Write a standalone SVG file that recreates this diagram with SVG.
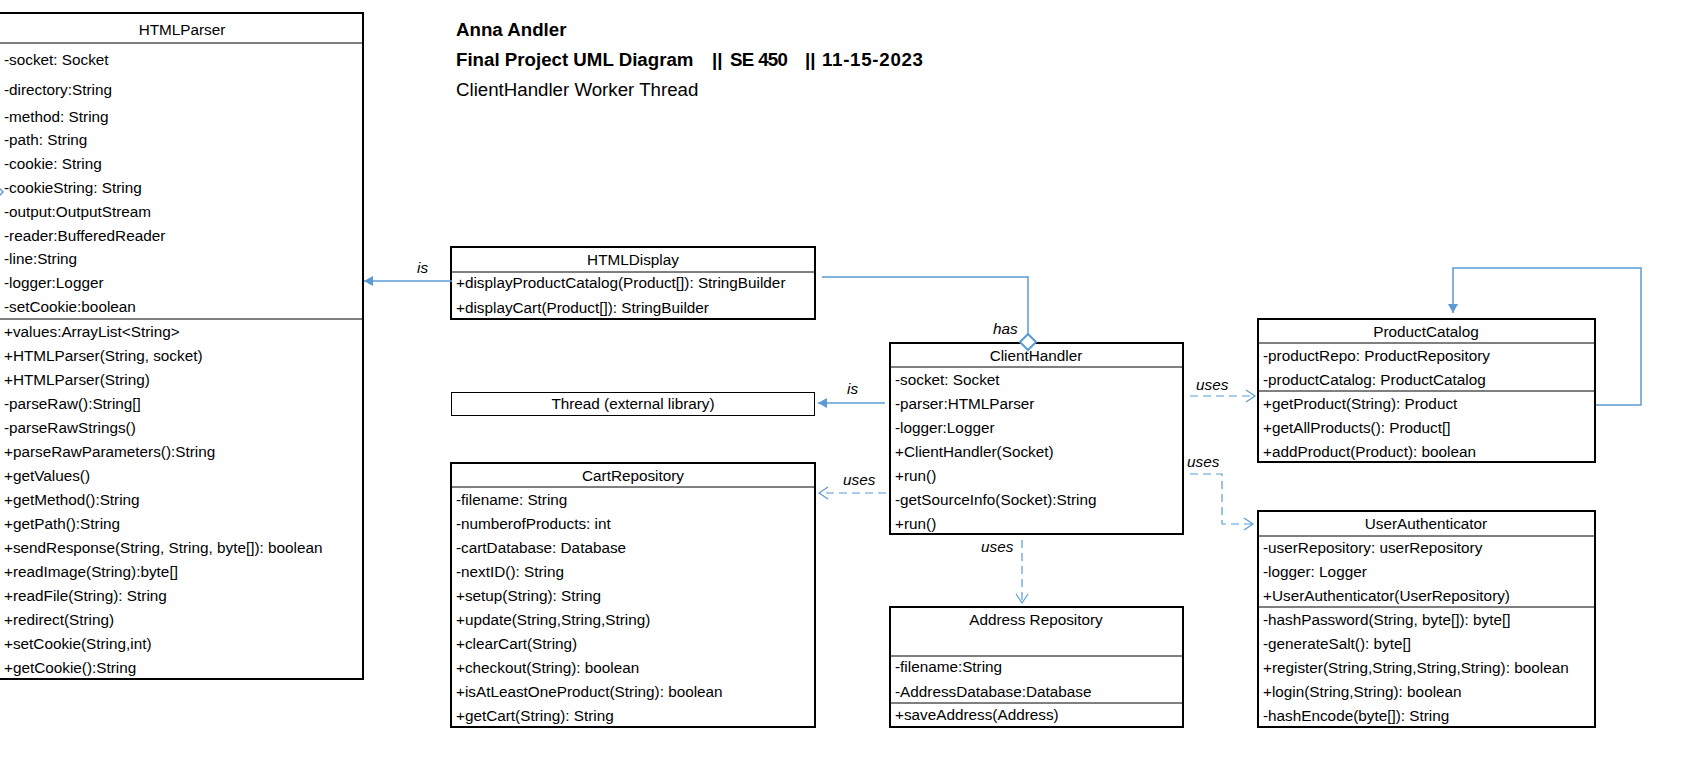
<svg xmlns="http://www.w3.org/2000/svg" width="1706" height="764" viewBox="0 0 1706 764">
<style>
text{font-family:"Liberation Sans",Arial,sans-serif;font-size:15.3px;fill:#000}
.t{text-anchor:middle}
.h{font-size:18.7px}
.b{font-weight:bold}
.lbl{font-style:italic}
.box{fill:#fff;stroke:#000;stroke-width:2}
.thin{fill:#fff;stroke:#000;stroke-width:1}
.sep{stroke:#000;stroke-width:1}
.c{fill:none;stroke:#5B9BD5;stroke-width:1.5}
.d{fill:none;stroke:#5B9BD5;stroke-width:1.2;stroke-dasharray:8 5}
</style>
<defs>
<marker id="fa" markerWidth="10" markerHeight="10" refX="9" refY="5" orient="auto" markerUnits="userSpaceOnUse">
<path d="M0,0 L9,5 L0,10 z" fill="#5B9BD5"/>
</marker>
<marker id="oa" markerWidth="12" markerHeight="14" refX="10" refY="7" orient="auto" markerUnits="userSpaceOnUse">
<path d="M1,1 L10,7 L1,13" fill="none" stroke="#5B9BD5" stroke-width="1.2"/>
</marker>
</defs>
<rect width="1706" height="764" fill="#fff"/>

<g id="title">
<text x="456" y="36" class="h b">Anna Andler</text>
<text y="66" class="h b"><tspan x="456">Final Project UML Diagram</tspan><tspan x="712">||</tspan><tspan x="730" textLength="58">SE 450</tspan><tspan x="805">||</tspan><tspan x="822" textLength="101">11-15-2023</tspan></text>
<text x="456" y="96" class="h">ClientHandler Worker Thread</text>
</g>

<g id="HTMLParser">
<rect class="box" x="-2" y="13" width="365" height="666"/>
<line class="sep" x1="0" y1="43" x2="363" y2="43"/>
<line class="sep" x1="0" y1="319" x2="363" y2="319"/>
<text x="182" y="35" class="t">HTMLParser</text>
<text x="4" y="65">-socket: Socket</text>
<text x="4" y="95">-directory:String</text>
<text x="4" y="122">-method: String</text>
<text x="4" y="145">-path: String</text>
<text x="4" y="169">-cookie: String</text>
<text x="4" y="193">-cookieString: String</text>
<text x="4" y="217">-output:OutputStream</text>
<text x="4" y="241">-reader:BufferedReader</text>
<text x="4" y="264">-line:String</text>
<text x="4" y="288">-logger:Logger</text>
<text x="4" y="312">-setCookie:boolean</text>
<text x="4" y="337">+values:ArrayList&lt;String&gt;</text>
<text x="4" y="361">+HTMLParser(String, socket)</text>
<text x="4" y="385">+HTMLParser(String)</text>
<text x="4" y="409">-parseRaw():String[]</text>
<text x="4" y="433">-parseRawStrings()</text>
<text x="4" y="457">+parseRawParameters():String</text>
<text x="4" y="481">+getValues()</text>
<text x="4" y="505">+getMethod():String</text>
<text x="4" y="529">+getPath():String</text>
<text x="4" y="553">+sendResponse(String, String, byte[]): boolean</text>
<text x="4" y="577">+readImage(String):byte[]</text>
<text x="4" y="601">+readFile(String): String</text>
<text x="4" y="625">+redirect(String)</text>
<text x="4" y="649">+setCookie(String,int)</text>
<text x="4" y="673">+getCookie():String</text>
</g>

<g id="HTMLDisplay">
<rect class="box" x="451" y="247" width="364" height="72"/>
<line class="sep" x1="451" y1="272" x2="815" y2="272"/>
<text x="633" y="265" class="t">HTMLDisplay</text>
<text x="456" y="288">+displayProductCatalog(Product[]): StringBuilder</text>
<text x="456" y="313">+displayCart(Product[]): StringBuilder</text>
</g>

<g id="Thread">
<rect class="thin" x="451.5" y="392.5" width="363" height="23"/>
<text x="633" y="409" class="t">Thread (external library)</text>
</g>

<g id="CartRepository">
<rect class="box" x="451" y="463" width="364" height="264"/>
<line class="sep" x1="451" y1="487" x2="815" y2="487"/>
<text x="633" y="481" class="t">CartRepository</text>
<text x="456" y="505">-filename: String</text>
<text x="456" y="529">-numberofProducts: int</text>
<text x="456" y="553">-cartDatabase: Database</text>
<text x="456" y="577">-nextID(): String</text>
<text x="456" y="601">+setup(String): String</text>
<text x="456" y="625">+update(String,String,String)</text>
<text x="456" y="649">+clearCart(String)</text>
<text x="456" y="673">+checkout(String): boolean</text>
<text x="456" y="697">+isAtLeastOneProduct(String): boolean</text>
<text x="456" y="721">+getCart(String): String</text>
</g>

<g id="ClientHandler">
<rect class="box" x="890" y="343" width="293" height="191"/>
<line class="sep" x1="890" y1="367" x2="1183" y2="367"/>
<text x="1036" y="361" class="t">ClientHandler</text>
<text x="895" y="385">-socket: Socket</text>
<text x="895" y="409">-parser:HTMLParser</text>
<text x="895" y="433">-logger:Logger</text>
<text x="895" y="457">+ClientHandler(Socket)</text>
<text x="895" y="481">+run()</text>
<text x="895" y="505">-getSourceInfo(Socket):String</text>
<text x="895" y="529">+run()</text>
</g>

<g id="AddressRepository">
<rect class="box" x="890" y="607" width="293" height="120"/>
<line class="sep" x1="890" y1="656" x2="1183" y2="656"/>
<line class="sep" x1="890" y1="703" x2="1183" y2="703"/>
<text x="1036" y="625" class="t">Address Repository</text>
<text x="895" y="672">-filename:String</text>
<text x="895" y="697">-AddressDatabase:Database</text>
<text x="895" y="720">+saveAddress(Address)</text>
</g>

<g id="ProductCatalog">
<rect class="box" x="1258" y="319" width="337" height="143"/>
<line class="sep" x1="1258" y1="343" x2="1595" y2="343"/>
<line class="sep" x1="1258" y1="391" x2="1595" y2="391"/>
<text x="1426" y="337" class="t">ProductCatalog</text>
<text x="1263" y="361">-productRepo: ProductRepository</text>
<text x="1263" y="385">-productCatalog: ProductCatalog</text>
<text x="1263" y="409">+getProduct(String): Product</text>
<text x="1263" y="433">+getAllProducts(): Product[]</text>
<text x="1263" y="457">+addProduct(Product): boolean</text>
</g>

<g id="UserAuthenticator">
<rect class="box" x="1258" y="511" width="337" height="216"/>
<line class="sep" x1="1258" y1="536" x2="1595" y2="536"/>
<line class="sep" x1="1258" y1="607" x2="1595" y2="607"/>
<text x="1426" y="529" class="t">UserAuthenticator</text>
<text x="1263" y="553">-userRepository: userRepository</text>
<text x="1263" y="577">-logger: Logger</text>
<text x="1263" y="601">+UserAuthenticator(UserRepository)</text>
<text x="1263" y="625">-hashPassword(String, byte[]): byte[]</text>
<text x="1263" y="649">-generateSalt(): byte[]</text>
<text x="1263" y="673">+register(String,String,String,String): boolean</text>
<text x="1263" y="697">+login(String,String): boolean</text>
<text x="1263" y="721">-hashEncode(byte[]): String</text>
</g>

<g id="connectors">
<path class="c" d="M452,281 H364" marker-end="url(#fa)"/>
<text x="417" y="273" class="lbl">is</text>
<path class="c" d="M822,277 H1028 V334"/>
<polygon points="1028,334 1036,342 1028,350 1020,342" fill="#fff" stroke="#5B9BD5" stroke-width="2"/>
<text x="993" y="334" class="lbl">has</text>
<path class="c" d="M885,403 H818" marker-end="url(#fa)"/>
<text x="847" y="394" class="lbl">is</text>
<path class="d" d="M886,493 H819" marker-end="url(#oa)"/>
<text x="843" y="485" class="lbl">uses</text>
<path class="d" d="M1022,540 V603" marker-end="url(#oa)"/>
<text x="981" y="552" class="lbl">uses</text>
<path class="d" d="M1190,396 H1255" marker-end="url(#oa)"/>
<text x="1196" y="390" class="lbl">uses</text>
<path class="d" d="M1190,474 H1222 V524 H1253" marker-end="url(#oa)"/>
<text x="1187" y="467" class="lbl">uses</text>
<path class="c" d="M1596,405 H1641 V268 H1453 V313" marker-end="url(#fa)"/>
<polygon points="-9,192 -3,186 3,192 -3,198" fill="none" stroke="#5B9BD5" stroke-width="1.5"/>
</g>
</svg>
